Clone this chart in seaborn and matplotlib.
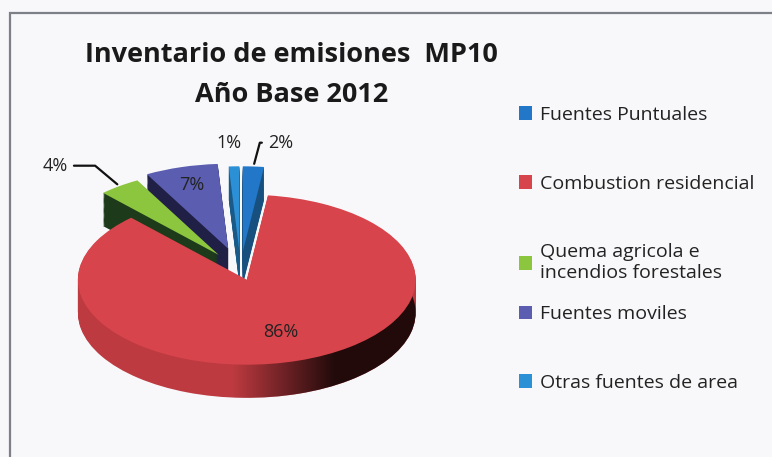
import numpy as np
import matplotlib
matplotlib.use("Agg")
import matplotlib.pyplot as plt
import seaborn as sns
from matplotlib.patches import Patch, Rectangle

# --- data ---
categories = ["Fuentes Puntuales", "Combustion residencial",
              "Quema agricola e\nincendios forestales", "Fuentes moviles",
              "Otras fuentes de area"]
values = [2, 86, 4, 7, 1]
pct_labels = ["2%", "86%", "4%", "7%", "1%"]

top_colors = ["#2277c8", "#d8444b", "#8cc63f", "#5b5eb0", "#2b90d6"]
side_colors = ["#17507e", "#bd3a40", "#1d3a1b", "#202046", "#195a88"]
explode = [0.22, 0.12, 0.22, 0.26, 0.22]

sns.set_theme(style="white")
plt.rcParams["font.family"] = ["Open Sans", "DejaVu Sans"]

fig = plt.figure(figsize=(7.72, 4.57), dpi=100)
fig.patch.set_facecolor("#f8f8fa")
ax = fig.add_axes([0.0272, 0.0558, 0.5687, 0.6882])
ax.set_facecolor("none")

# side of the 3D pie: stacked copies shifted downwards
depth = 0.39
first_side = None
for d in np.linspace(depth, 0.01, 30):
    w, _ = ax.pie(values, colors=side_colors, explode=explode, startangle=90,
                  counterclock=False, center=(0, -d),
                  wedgeprops=dict(linewidth=0, zorder=1))
    if first_side is None:
        first_side = w

# darker shading on the right of the red side
grad = np.linspace(-1.3, 1.3, 300)
alpha = np.clip((grad + 0.05) / 0.6, 0, 1) * 0.82
img = np.zeros((2, 300, 4))
img[..., 3] = alpha
im = ax.imshow(img, extent=(-1.3, 1.3, -2.0, 0.6), aspect="auto", zorder=2)
im.set_clip_path(first_side[1])

# top faces
wedges, _ = ax.pie(values, colors=top_colors, explode=explode, startangle=90,
                   counterclock=False, wedgeprops=dict(linewidth=0, zorder=3))

ax.set_aspect("auto")
ax.set_xlim(-1.3, 1.3)
ax.set_ylim(-1.9, 1.8)
ax.axis("off")


def wedge_point(w, r):
    ang = np.deg2rad((w.theta1 + w.theta2) / 2)
    return w.center[0] + r * np.cos(ang), w.center[1] + r * np.sin(ang)


fs = 13
lbl = dict(fontsize=fs, color="#222222", ha="center", va="center", zorder=5)
# 86% inside red, 7% inside violet
x, y = wedge_point(wedges[1], 0.65)
ax.text(x, y, pct_labels[1], **lbl)
x, y = wedge_point(wedges[3], 0.78)
ax.text(x, y, pct_labels[3], **lbl)
# outside labels
x, y = wedge_point(wedges[4], 1.0)
ax.text(x - 0.03, y + 0.28, pct_labels[4], **lbl)
x, y = wedge_point(wedges[0], 1.0)
ax.annotate(pct_labels[0], xy=(x, y), xytext=(x + 0.16, y + 0.28),
            ha="center", va="center", fontsize=fs, color="#222222",
            arrowprops=dict(arrowstyle="-", color="#111111", lw=1.6,
                            connectionstyle="angle,angleA=0,angleB=75,rad=0"),
            zorder=5)
x, y = wedge_point(wedges[2], 1.0)
ax.annotate(pct_labels[2], xy=(x, y), xytext=(x - 0.38, y + 0.24),
            ha="center", va="center", fontsize=fs, color="#222222",
            arrowprops=dict(arrowstyle="-", color="#111111", lw=1.6,
                            connectionstyle="angle,angleA=0,angleB=-40,rad=0"),
            zorder=5)

fig.text(0.378, 0.836, "Inventario de emisiones  MP10\nAño Base 2012",
         ha="center", va="center", fontsize=19.5, fontweight="bold",
         color="#1a1a1a", linespacing=1.7)

handles = [Patch(facecolor=c, edgecolor="none") for c in top_colors]
leg_kw = dict(loc="upper left", frameon=False, fontsize=14, handlelength=0.7,
              handleheight=0.7, handletextpad=0.4, labelspacing=2.6,
              labelcolor="#222222", borderaxespad=0, borderpad=0)
fig.legend(handles[:3], categories[:3], bbox_to_anchor=(0.672, 0.768), **leg_kw)
fig.legend(handles[3:], categories[3:], bbox_to_anchor=(0.672, 0.332), **leg_kw)

# frame of the scanned chart
fig.add_artist(Rectangle((10 / 772, -0.05), 1.2, (457 - 13) / 457 + 0.05,
                         transform=fig.transFigure, fill=False,
                         edgecolor="#7d8088", lw=1.6))

fig.savefig("out.png", dpi=100, facecolor=fig.get_facecolor())
